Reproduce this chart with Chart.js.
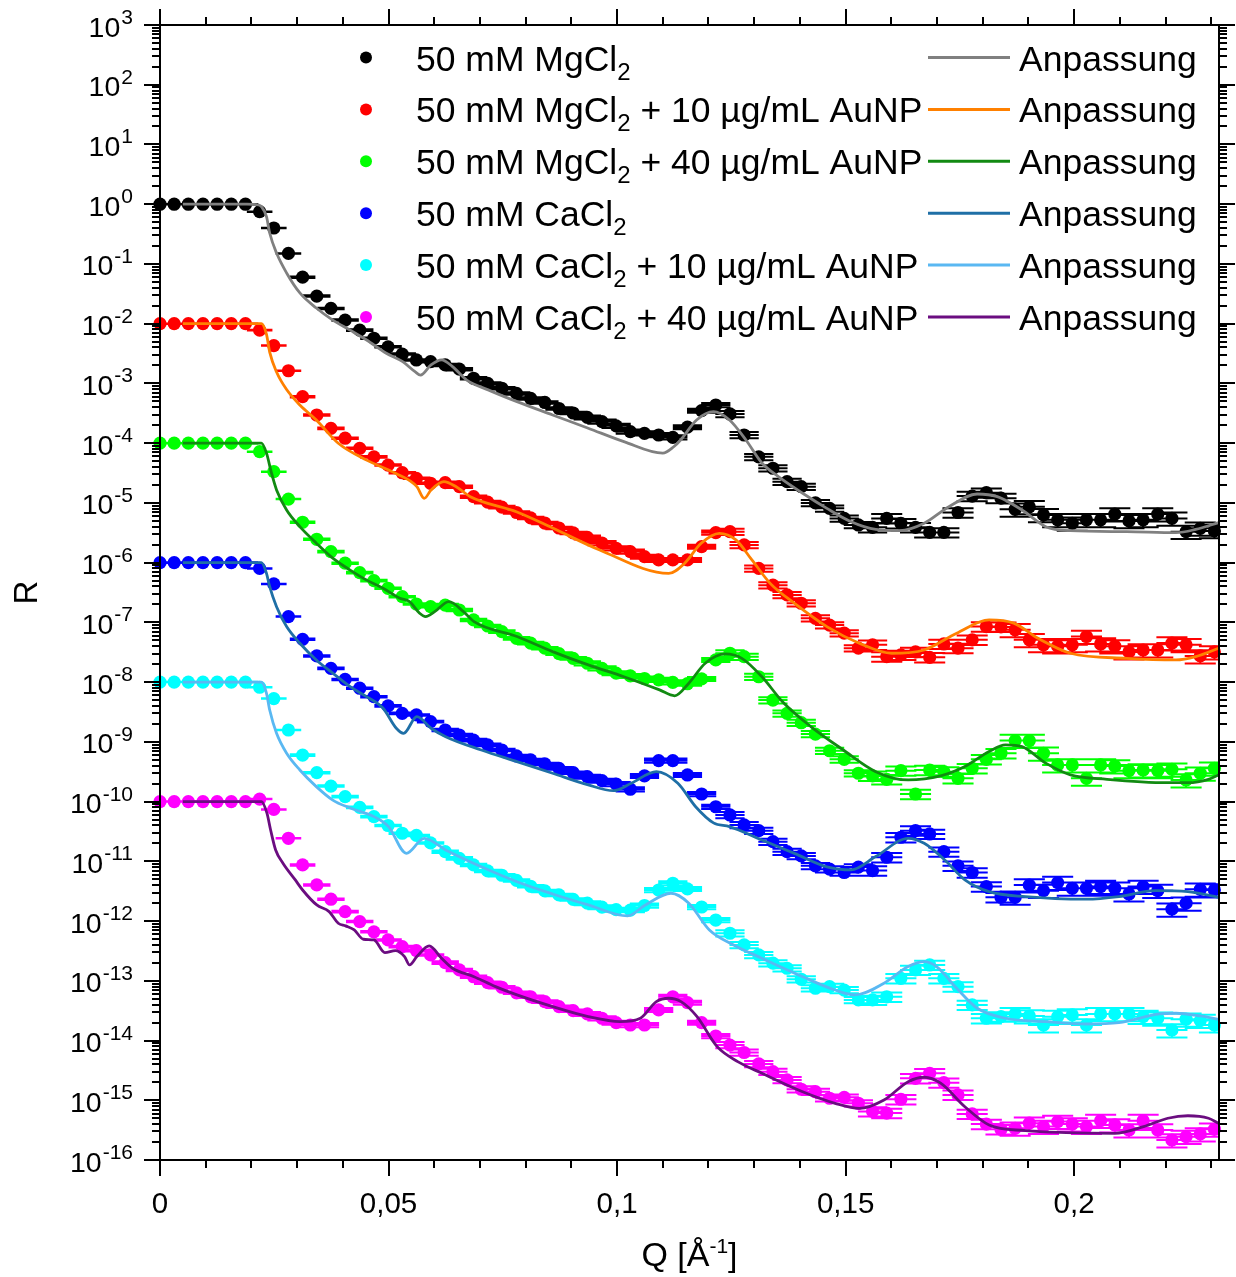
<!DOCTYPE html>
<html><head><meta charset="utf-8">
<script src="https://cdn.jsdelivr.net/npm/chart.js@4.4.0/dist/chart.umd.min.js"></script>
<style>html,body{margin:0;padding:0;background:#fff;}#wrap{width:1236px;height:1277px;}</style>
</head><body><div id="wrap"><canvas id="c" width="1236" height="1277"></canvas></div>
<script>
// ---------- data ----------
const Q = [0,0.0031,0.0062,0.0094,0.0125,0.0156,0.0187,0.0218,0.0249,0.0281,0.0312,0.0343,0.0374,0.0405,0.0437,0.0468,0.0499,0.0530,0.0561,0.0592,0.0624,0.0655,0.0686,0.0717,0.0748,0.0780,0.0811,0.0842,0.0873,0.0904,0.0935,0.0967,0.0998,0.1029,0.1060,0.1091,0.1122,0.1154,0.1185,0.1216,0.1247,0.1278,0.1310,0.1341,0.1372,0.1403,0.1434,0.1465,0.1497,0.1528,0.1559,0.1590,0.1621,0.1653,0.1684,0.1715,0.1746,0.1777,0.1808,0.1840,0.1871,0.1902,0.1933,0.1964,0.1996,0.2027,0.2058,0.2089,0.2120,0.2151,0.2183,0.2214,0.2245,0.2276,0.2307];
const dQ = [0.0028,0.0028,0.0028,0.0028,0.0028,0.0028,0.0028,0.0028,0.0028,0.0028,0.0028,
  0.003,0.003,0.003,0.003,0.003,0.003,0.003,0.003,0.003,0.003,0.003,0.003,0.003,0.003,0.003,0.003,0.003,0.003,0.003,0.003,
  0.0032,0.0032,0.0032,0.0032,0.0032,0.0032,0.0032,0.0032,0.0032,0.0032,0.0032,0.0032,0.0032,0.0032,0.0032,0.0032,0.0032,0.0032,0.0032,0.0032,
  0.0034,0.0034,0.0034,0.0034,0.0034,0.0034,0.0034,0.0034,0.0034,0.0034,0.0034,0.0034,0.0034,0.0034,0.0034,0.0034,0.0034,0.0034,0.0034,0.0034,0.0034,0.0034,0.0034,0.0034];
const relErr = [0.01,0.01,0.01,0.01,0.01,0.01,0.01,0.01,0.01,0.01,
  0.03,0.03,0.03,0.03,0.03,0.03,0.03,0.03,0.03,0.03,
  0.05,0.05,0.05,0.05,0.05,0.05,0.05,0.05,0.05,0.05,
  0.08,0.08,0.08,0.08,0.08,0.08,0.08,0.08,0.08,0.08,
  0.12,0.12,0.12,0.12,0.12,0.12,0.12,0.12,0.12,0.12,
  0.18,0.18,0.18,0.18,0.18,0.18,0.18,0.18,0.18,0.18,
  0.25,0.25,0.25,0.25,0.25,0.25,0.25,0.25,0.25,0.25,0.25,0.25,0.25,0.25,0.25];

const R_Mg = [1,1,1,1,1,1,1,0.75,0.40,0.15,0.060,0.029,0.018,0.0115,0.0078,0.0057,0.0041,0.0031,0.00247,0.00231,0.00204,0.00173,0.00122,0.00100,0.00083,0.00068,0.00056,0.00048,0.00038,0.00032,0.00027,0.00023,0.000195,0.000156,0.000146,0.000137,0.000125,0.000185,0.00035,0.000435,0.000308,0.000137,5.9e-5,3.8e-5,2.27e-5,1.87e-5,1.0e-5,8.1e-6,5.5e-6,4.27e-6,3.9e-6,5.5e-6,4.56e-6,3.9e-6,3.2e-6,3.2e-6,6.9e-6,1.3e-5,1.48e-5,1.2e-5,7.8e-6,8.6e-6,6.3e-6,5.2e-6,4.56e-6,5.2e-6,5.2e-6,6.5e-6,5.0e-6,5.2e-6,6.5e-6,5.5e-6,3.3e-6,3.75e-6,3.4e-6];
const R_Mg10 = [0.01,0.01,0.01,0.01,0.01,0.01,0.01,7.8e-3,4.3e-3,1.63e-3,6.0e-4,2.96e-4,1.77e-4,1.21e-4,8.2e-5,5.9e-5,4.3e-5,3.2e-5,2.58e-5,2.13e-5,2.18e-5,1.87e-5,1.27e-5,1.03e-5,8.5e-6,6.9e-6,5.6e-6,4.6e-6,3.8e-6,3.14e-6,2.64e-6,2.13e-6,1.74e-6,1.53e-6,1.26e-6,1.11e-6,1.11e-6,1.11e-6,1.85e-6,3.18e-6,3.3e-6,1.98e-6,8.0e-7,4.2e-7,2.88e-7,2.09e-7,1.17e-7,9.0e-8,6.6e-8,3.7e-8,4.2e-8,2.67e-8,2.85e-8,3.2e-8,2.6e-8,4.35e-8,3.7e-8,5.1e-8,8.5e-8,8.4e-8,7.5e-8,5.1e-8,4.2e-8,4.0e-8,4.2e-8,5.8e-8,4.35e-8,4.0e-8,3.2e-8,3.45e-8,3.45e-8,4.5e-8,4.2e-8,2.74e-8,3.2e-8];
const R_Mg40 = [1e-4,1e-4,1e-4,1e-4,1e-4,1e-4,1e-4,7.2e-5,3.33e-5,1.16e-5,4.74e-6,2.46e-6,1.53e-6,9.8e-7,6.8e-7,5.0e-7,3.72e-7,2.69e-7,2.03e-7,1.83e-7,1.95e-7,1.61e-7,1.1e-7,8.7e-8,7.0e-8,5.4e-8,4.5e-8,3.7e-8,3.0e-8,2.5e-8,2.07e-8,1.70e-8,1.41e-8,1.27e-8,1.15e-8,1.09e-8,9.9e-9,9.4e-9,1.13e-8,2.35e-8,3.04e-8,2.67e-8,1.23e-8,5.0e-9,3.0e-9,2.09e-9,1.35e-9,7.1e-10,5.1e-10,2.98e-10,2.69e-10,2.36e-10,3.29e-10,1.34e-10,3.38e-10,3.17e-10,2.45e-10,3.61e-10,5.1e-10,6.44e-10,1.05e-9,1.05e-9,6.44e-10,4.1e-10,4.1e-10,2.45e-10,4.1e-10,3.94e-10,3.29e-10,3.38e-10,3.29e-10,3.47e-10,2.3e-10,2.98e-10,3.61e-10];
const R_Ca = [1e-6,1e-6,1e-6,1e-6,1e-6,1e-6,1e-6,8.0e-7,4.4e-7,1.25e-7,5.2e-8,2.74e-8,1.70e-8,1.11e-8,7.9e-9,5.7e-9,4.0e-9,3.0e-9,2.82e-9,2.18e-9,1.58e-9,1.30e-9,1.07e-9,8.9e-10,7.3e-10,5.8e-10,4.98e-10,4.27e-10,3.6e-10,3.05e-10,2.61e-10,2.24e-10,1.97e-10,1.61e-10,2.69e-10,4.85e-10,4.85e-10,2.79e-10,1.34e-10,8.2e-11,5.97e-11,4.06e-11,3.26e-11,2.13e-11,1.45e-11,1.23e-11,8.4e-12,7.4e-12,6.5e-12,8.0e-12,7.0e-12,1.17e-11,2.53e-11,3.26e-11,2.87e-11,1.45e-11,8.4e-12,6.5e-12,3.77e-12,2.5e-12,2.5e-12,4.0e-12,3.23e-12,4.4e-12,3.54e-12,3.54e-12,3.77e-12,3.54e-12,2.84e-12,3.77e-12,3.23e-12,1.58e-12,1.99e-12,3.4e-12,3.32e-12];
const R_Ca10 = [1e-8,1e-8,1e-8,1e-8,1e-8,1e-8,1e-8,8.2e-9,5.3e-9,1.58e-9,6.0e-10,3.05e-10,1.82e-10,1.21e-10,8.0e-11,5.6e-11,3.98e-11,2.95e-11,2.71e-11,2.03e-11,1.45e-11,1.12e-11,8.7e-12,6.9e-12,5.85e-12,4.79e-12,3.82e-12,3.19e-12,2.74e-12,2.3e-12,1.99e-12,1.71e-12,1.55e-12,1.52e-12,1.82e-12,3.31e-12,4.29e-12,3.45e-12,1.72e-12,1.04e-12,6.25e-13,3.98e-13,2.71e-13,1.97e-13,1.62e-13,1.06e-13,7.5e-14,7.98e-14,7.0e-14,4.78e-14,4.78e-14,5.4e-14,1.1e-13,1.52e-13,1.84e-13,1.1e-13,7.98e-14,3.94e-14,2.36e-14,2.51e-14,2.79e-14,2.57e-14,1.82e-14,2.51e-14,2.68e-14,1.82e-14,2.79e-14,2.79e-14,2.79e-14,2.51e-14,2.36e-14,1.5e-14,2.27e-14,2.16e-14,1.82e-14];
const R_Ca40 = [1e-10,1e-10,1e-10,1e-10,1e-10,1e-10,1e-10,1.1e-10,7.4e-11,2.43e-11,8.7e-12,4.02e-12,2.32e-12,1.44e-12,9.8e-13,6.6e-13,4.83e-13,3.73e-13,3.2e-13,2.71e-13,2.02e-13,1.52e-13,1.17e-13,9.3e-14,7.8e-14,6.3e-14,5.4e-14,4.48e-14,3.69e-14,3.16e-14,2.79e-14,2.36e-14,1.99e-14,1.82e-14,1.82e-14,3.25e-14,5.4e-14,4.31e-14,1.99e-14,1.19e-14,8.4e-15,6.3e-15,4.06e-15,3.01e-15,2.19e-15,1.53e-15,1.39e-15,1.08e-15,1.12e-15,8.9e-16,6.5e-16,6.1e-16,1.04e-15,2.33e-15,2.83e-15,1.97e-15,1.23e-15,5.9e-16,4.0e-16,3.27e-16,3.4e-16,4.13e-16,3.62e-16,4.39e-16,4.0e-16,3.62e-16,4.56e-16,3.86e-16,3.18e-16,4.56e-16,3.18e-16,2.16e-16,2.46e-16,2.73e-16,3.27e-16];

// fit curves ("Anpassung")
const FQ_Mg = [0.005,0.019,0.0216,0.0222,0.0233,0.0240,0.0255,0.0277,0.0306,0.0342,0.0378,0.0416,0.0452,0.0495,0.0531,0.0558,0.0570,0.0593,0.0616,0.0640,0.0671,0.0718,0.0781,0.0859,0.0937,0.1015,0.1100,0.1124,0.1139,0.1174,0.1211,0.1246,0.1282,0.1317,0.1353,0.1406,0.1459,0.1512,0.1566,0.1619,0.1672,0.1726,0.1788,0.1832,0.1886,0.1938,0.1992,0.2115,0.2223,0.2266,0.2316];
const FR_Mg = [1,1,0.97,0.91,0.62,0.33,0.152,0.0706,0.0327,0.0183,0.0115,0.0078,0.00533,0.00319,0.00231,0.00157,0.00138,0.00204,0.00247,0.00191,0.00114,0.00078,0.000495,0.000296,0.000178,0.000106,6.8e-5,8.7e-5,1.13e-4,2.44e-4,3.36e-4,2.44e-4,1.13e-4,4.66e-5,2.75e-5,1.45e-5,8.1e-6,4.85e-6,3.6e-6,3.43e-6,4.56e-6,8.65e-6,1.41e-5,1.27e-5,7.6e-6,4.0e-6,3.43e-6,3.3e-6,3.17e-6,3.6e-6,4.67e-6];
const FQ_Mg10 = [0.005,0.0222,0.0233,0.0240,0.0255,0.0277,0.0306,0.0342,0.0390,0.0452,0.0515,0.0562,0.0578,0.0593,0.0621,0.0648,0.0679,0.0781,0.0859,0.0962,0.1113,0.1148,0.1184,0.1224,0.1260,0.1295,0.1335,0.1388,0.1459,0.1530,0.1601,0.1672,0.1743,0.1814,0.1868,0.1921,0.1992,0.2115,0.2223,0.2266,0.2316];
const FR_Mg10 = [0.01,0.01,6.6e-3,3.35e-3,1.55e-3,7.9e-4,4.35e-4,2.44e-4,9.95e-5,5.2e-5,3.13e-5,1.87e-5,1.19e-5,1.64e-5,2.27e-5,1.87e-5,1.27e-5,7.05e-6,3.8e-6,1.63e-6,6.6e-7,9.8e-7,2.11e-6,3.1e-6,2.4e-6,1.11e-6,4.5e-7,2.09e-7,8.5e-8,4.47e-8,3.04e-8,3.45e-8,6.6e-8,1.1e-7,9.7e-8,5.4e-8,3.04e-8,2.5e-8,2.35e-8,2.67e-8,3.69e-8];
const FQ_Mg40 = [0.005,0.0222,0.0233,0.0244,0.0255,0.0277,0.0306,0.0342,0.0378,0.0416,0.0452,0.0488,0.0525,0.0546,0.0568,0.0581,0.0601,0.0632,0.0664,0.0687,0.0781,0.0859,0.0937,0.1015,0.1093,0.1126,0.1157,0.1193,0.1237,0.1273,0.1317,0.1362,0.1424,0.1495,0.1566,0.1637,0.1708,0.1761,0.1814,0.1850,0.1886,0.1938,0.1992,0.2072,0.2205,0.2249,0.2294,0.2316];
const FR_Mg40 = [1e-4,1e-4,6.8e-5,3.15e-5,1.65e-5,7.6e-6,4.0e-6,2.12e-6,1.19e-6,7.5e-7,5.1e-7,3.72e-7,2.53e-7,2.22e-7,1.42e-7,1.25e-7,1.51e-7,2.22e-7,1.51e-7,1.03e-7,5.8e-8,3.24e-8,1.94e-8,1.23e-8,7.4e-9,5.9e-9,9.6e-9,2.07e-8,2.96e-8,2.5e-8,1.23e-8,4.7e-9,1.8e-9,7.3e-10,3.17e-10,2.3e-10,2.69e-10,3.85e-10,6.9e-10,8.9e-10,8.3e-10,4.4e-10,2.8e-10,2.36e-10,2.07e-10,2.07e-10,2.36e-10,2.8e-10];
const FQ_Ca = [0.005,0.0222,0.0233,0.0240,0.0255,0.0277,0.0306,0.0342,0.0378,0.0416,0.0452,0.0488,0.0517,0.0533,0.0562,0.0593,0.0625,0.0703,0.0781,0.0859,0.0937,0.0992,0.1031,0.1086,0.1133,0.1172,0.1211,0.1246,0.1317,0.1388,0.1459,0.1512,0.1566,0.1637,0.1672,0.1717,0.1761,0.1814,0.1894,0.2027,0.2098,0.2178,0.2249,0.2316];
const FR_Ca = [1e-6,1e-6,6.6e-7,3.96e-7,1.83e-7,8.5e-8,4.47e-8,2.35e-8,1.41e-8,8.4e-9,5.7e-9,3.65e-9,1.69e-9,1.39e-9,2.64e-9,1.69e-9,1.22e-9,7.3e-10,4.66e-10,2.98e-10,1.90e-10,1.52e-10,2.03e-10,3.17e-10,2.03e-10,8.2e-11,4.4e-11,3.8e-11,2.28e-11,1.36e-11,8.1e-12,7.2e-12,1.2e-11,2.43e-11,2.0e-11,1.05e-11,4.9e-12,3.1e-12,2.56e-12,2.32e-12,2.56e-12,3.23e-12,3.1e-12,2.5e-12];
const FQ_Ca10 = [0.005,0.0222,0.0233,0.0240,0.0255,0.0277,0.0306,0.0342,0.0378,0.0416,0.0468,0.0500,0.0539,0.0578,0.0625,0.0703,0.0781,0.0859,0.0937,0.1023,0.1062,0.1118,0.1157,0.1202,0.1255,0.1317,0.1406,0.1477,0.1521,0.1584,0.1637,0.1672,0.1699,0.1743,0.1788,0.1850,0.1938,0.2027,0.2098,0.2187,0.2223,0.2276,0.2316];
const FR_Ca10 = [1e-8,1e-8,6.5e-9,3.41e-9,1.39e-9,6.44e-10,3.38e-10,1.78e-10,1.06e-10,7.8e-11,5.6e-11,3.81e-11,1.36e-11,2.43e-11,1.55e-11,8.1e-12,4.56e-12,2.84e-12,1.86e-12,1.22e-12,1.86e-12,2.92e-12,1.99e-12,7.1e-13,3.98e-13,2.38e-13,1.17e-13,7.0e-14,5.8e-14,9.1e-14,1.73e-13,2.09e-13,1.73e-13,7.5e-14,3.47e-14,2.36e-14,2.07e-14,1.89e-14,1.99e-14,2.79e-14,2.86e-14,2.58e-14,2.27e-14];
const FQ_Ca40 = [0.005,0.0222,0.0234,0.0242,0.0253,0.0269,0.0296,0.0312,0.0343,0.0370,0.0390,0.0406,0.0425,0.0445,0.0468,0.0492,0.0515,0.0535,0.0546,0.0562,0.0589,0.0616,0.0640,0.0687,0.0734,0.0781,0.0859,0.0937,0.1007,0.1051,0.1086,0.1113,0.1140,0.1175,0.1219,0.1264,0.1317,0.1406,0.1477,0.1530,0.1584,0.1637,0.1672,0.1708,0.1761,0.1814,0.1894,0.1983,0.2089,0.2152,0.2205,0.2249,0.2294,0.2316];
const FR_Ca40 = [1e-10,1e-10,6.4e-11,3.35e-11,1.55e-11,9.3e-12,4.88e-12,3.31e-12,1.86e-12,1.44e-12,9.2e-13,8.3e-13,7.1e-13,4.96e-13,4.83e-13,2.96e-13,3.2e-13,2.54e-13,1.84e-13,2.54e-13,3.83e-13,2.39e-13,1.62e-13,1.17e-13,7.98e-14,5.8e-14,3.69e-14,2.51e-14,2.07e-14,2.36e-14,4.48e-14,5.1e-14,4.48e-14,2.51e-14,7.9e-15,4.44e-15,2.83e-15,1.39e-15,8.9e-16,7.3e-16,1.01e-15,2.05e-15,2.43e-15,1.93e-15,7.8e-16,3.86e-16,3.1e-16,2.87e-16,2.8e-16,3.62e-16,5.0e-16,5.5e-16,5.0e-16,4.12e-16];

const labelPre  = ['50 mM MgCl','50 mM MgCl','50 mM MgCl','50 mM CaCl','50 mM CaCl','50 mM CaCl'];
const labelSub  = '2';
const labelPost = ['',' + 10 \u00b5g/mL AuNP',' + 40 \u00b5g/mL AuNP','',' + 10 \u00b5g/mL AuNP',' + 40 \u00b5g/mL AuNP'];
const fitLabel  = 'Anpassung';
const xMajorTicks = [0,0.05,0.1,0.15,0.2];
const xTickText   = ['0','0,05','0,1','0,15','0,2'];
const yDecades    = [3,2,1,0,-1,-2,-3,-4,-5,-6,-7,-8,-9,-10,-11,-12,-13,-14,-15,-16];

// ---------- styles ----------
const pointColors = ['#000000','#ff0000','#00ff00','#0000ff','#00ffff','#ff00ff'];
const fitColors   = ['#808080','#ff8000','#128a12','#1f6fa6','#5ab8f2','#6b0d80'];
const FONT = '"Liberation Sans", Arial, Helvetica, sans-serif';

const seriesR  = [R_Mg, R_Mg10, R_Mg40, R_Ca, R_Ca10, R_Ca40];
const fitQs    = [FQ_Mg, FQ_Mg10, FQ_Mg40, FQ_Ca, FQ_Ca10, FQ_Ca40];
const fitRs    = [FR_Mg, FR_Mg10, FR_Mg40, FR_Ca, FR_Ca10, FR_Ca40];

const datasets = [];
seriesR.forEach((R, s) => {
  datasets.push({
    type: 'scatter',
    label: labelPre[s] + '\u2082' + labelPost[s],
    data: Q.map((q, i) => ({x: q, y: R[i]})),
    backgroundColor: pointColors[s], borderColor: pointColors[s],
    pointRadius: 6.6, pointBorderWidth: 0, pointHoverRadius: 6.6,
    showLine: false, order: 2, clip: false
  });
});
fitQs.forEach((fq, s) => {
  datasets.push({
    type: 'line',
    label: fitLabel,
    data: fq.map((q, i) => ({x: q, y: fitRs[s][i]})),
    borderColor: fitColors[s], backgroundColor: fitColors[s],
    borderWidth: 2.8, pointRadius: 0, fill: false,
    cubicInterpolationMode: 'monotone', order: 1
  });
});

const errorBarPlugin = {
  id: 'errbars',
  beforeDatasetsDraw(chart) {
    const {ctx, chartArea: a, scales: {x, y}} = chart;
    ctx.save();
    ctx.beginPath(); ctx.rect(a.left, a.top, a.right - a.left, a.bottom - a.top); ctx.clip();
    ctx.lineWidth = 2;
    seriesR.forEach((R, s) => {
      ctx.strokeStyle = pointColors[s];
      ctx.beginPath();
      R.forEach((r, i) => {
        const px = x.getPixelForValue(Q[i]);
        const py = y.getPixelForValue(r);
        const x0 = x.getPixelForValue(Q[i] - dQ[i]);
        const x1 = x.getPixelForValue(Q[i] + dQ[i]);
        const yt = y.getPixelForValue(r * (1 + relErr[i]));
        const yb = y.getPixelForValue(r * (1 - relErr[i]));
        ctx.moveTo(x0, py); ctx.lineTo(x1, py);
        ctx.moveTo(px, yt); ctx.lineTo(px, yb);
        ctx.moveTo(x0, yt); ctx.lineTo(x1, yt);
        ctx.moveTo(x0, yb); ctx.lineTo(x1, yb);
      });
      ctx.stroke();
    });
    ctx.restore();
  }
};

const axesPlugin = {
  id: 'axesDeco',
  afterDatasetsDraw(chart) {
    const {ctx, chartArea: a, scales: {x, y}} = chart;
    ctx.save();
    ctx.strokeStyle = '#000'; ctx.lineWidth = 2;
    ctx.strokeRect(a.left, a.top, a.right - a.left, a.bottom - a.top);
    ctx.beginPath();
    for (let k = 0; k <= 23; k++) {
      const v = k / 100;
      const px = Math.round(x.getPixelForValue(v));
      const len = (k % 5 === 0) ? 16 : 8;
      ctx.moveTo(px, a.bottom); ctx.lineTo(px, a.bottom + len);
      ctx.moveTo(px, a.top); ctx.lineTo(px, a.top - len);
    }
    yDecades.forEach(d => {
      const py = Math.round(y.getPixelForValue(Math.pow(10, d)));
      ctx.moveTo(a.left, py); ctx.lineTo(a.left - 16, py);
      ctx.moveTo(a.right, py); ctx.lineTo(a.right + 16, py);
      if (d < 3) {
        for (let m = 2; m <= 9; m++) {
          const pm = Math.round(y.getPixelForValue(m * Math.pow(10, d)));
          ctx.moveTo(a.left, pm); ctx.lineTo(a.left - 8, pm);
          ctx.moveTo(a.right, pm); ctx.lineTo(a.right + 8, pm);
        }
      }
    });
    ctx.stroke();

    ctx.fillStyle = '#000';
    ctx.font = '29.5px ' + FONT; ctx.textAlign = 'center'; ctx.textBaseline = 'alphabetic';
    xMajorTicks.forEach((v, i) => {
      ctx.fillText(xTickText[i], x.getPixelForValue(v), a.bottom + 53);
    });
    yDecades.forEach(d => {
      const py = y.getPixelForValue(Math.pow(10, d));
      const ex = String(d);
      ctx.font = '21px ' + FONT;
      const we = ctx.measureText(ex).width;
      const right = 133;
      ctx.textAlign = 'left';
      ctx.fillText(ex, right - we, py - 1);
      ctx.font = '28.5px ' + FONT; ctx.textAlign = 'right';
      ctx.fillText('10', right - we - 1, py + 11.5);
    });
    ctx.restore();
  },
  afterDraw(chart) {
    const {ctx, chartArea: a} = chart;
    ctx.save();
    ctx.fillStyle = '#000';
    ctx.save();
    ctx.translate(37, (a.top + a.bottom) / 2);
    ctx.rotate(-Math.PI / 2);
    ctx.font = '33px ' + FONT; ctx.textAlign = 'center'; ctx.textBaseline = 'alphabetic';
    ctx.fillText('R', 0, 0);
    ctx.restore();
    ctx.font = '34px ' + FONT;
    const p1 = 'Q [\u00c5', p3 = ']';
    const w1 = ctx.measureText(p1).width, w3 = ctx.measureText(p3).width;
    ctx.font = '21px ' + FONT;
    const p2 = '-1'; const w2 = ctx.measureText(p2).width;
    const cx = (a.left + a.right) / 2;
    let sx = cx - (w1 + w2 + w3) / 2;
    const base = 1266;
    ctx.textAlign = 'left'; ctx.textBaseline = 'alphabetic';
    ctx.font = '34px ' + FONT; ctx.fillText(p1, sx, base); sx += w1;
    ctx.font = '21px ' + FONT; ctx.fillText(p2, sx, base - 13); sx += w2;
    ctx.font = '34px ' + FONT; ctx.fillText(p3, sx, base);

    for (let s = 0; s < 6; s++) {
      const ry = 57.5 + 51.9 * s;
      ctx.fillStyle = pointColors[s];
      ctx.beginPath(); ctx.arc(366, ry, 6, 0, Math.PI * 2); ctx.fill();
      ctx.fillStyle = '#000';
      ctx.font = '35.5px ' + FONT; ctx.textAlign = 'left';
      let tx = 416;
      ctx.fillText(labelPre[s], tx, ry + 13); tx += ctx.measureText(labelPre[s]).width;
      ctx.font = '24px ' + FONT;
      ctx.fillText(labelSub, tx, ry + 22); tx += ctx.measureText(labelSub).width;
      ctx.font = '35.5px ' + FONT;
      if (labelPost[s]) ctx.fillText(labelPost[s], tx, ry + 13);
      ctx.strokeStyle = fitColors[s]; ctx.lineWidth = 3;
      ctx.beginPath(); ctx.moveTo(928, ry); ctx.lineTo(1010, ry); ctx.stroke();
      ctx.fillText(fitLabel, 1019, ry + 13);
    }
    ctx.restore();
  }
};

new Chart(document.getElementById('c').getContext('2d'), {
  type: 'scatter',
  data: {datasets},
  options: {
    responsive: false, animation: false, devicePixelRatio: 1,
    layout: {padding: {left: 0, right: 17, top: 25, bottom: 0}},
    plugins: {legend: {display: false}, tooltip: {enabled: false}},
    scales: {
      x: {type: 'linear', min: 0, max: 0.2317, position: 'bottom',
          grid: {display: false}, border: {display: false}, ticks: {display: false},
          afterFit(s) { s.height = 117; }},
      y: {type: 'logarithmic', min: 1e-16, max: 1e3, position: 'left',
          grid: {display: false}, border: {display: false}, ticks: {display: false},
          afterFit(s) { s.width = 160; }}
    }
  },
  plugins: [errorBarPlugin, axesPlugin]
});
</script>
</body></html>
